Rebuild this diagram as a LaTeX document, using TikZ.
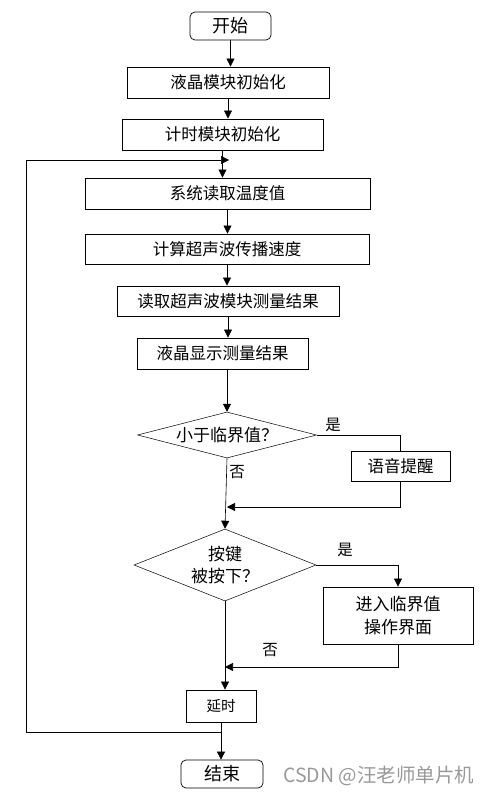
\documentclass[tikz,border=0pt]{standalone}
\usepackage{fontspec}
\setmainfont{Noto Sans CJK SC}
\usetikzlibrary{arrows.meta,shapes.geometric}
\begin{document}
\begin{tikzpicture}[x=1pt,y=-1pt,
  box/.style={draw, line width=0.9pt, inner sep=0pt, font=\fontsize{16.5}{19}\selectfont},
  term/.style={draw, line width=0.7pt, rounded corners=5pt, inner sep=0pt, font=\fontsize{18}{21}\selectfont},
  dec/.style={draw, diamond, line width=0.5pt, inner sep=0pt},
  lbl/.style={font=\fontsize{15.5}{18}\selectfont, inner sep=0pt},
  arr/.style={-{Triangle[length=8pt,width=8pt]}, line width=0.6pt},
  ln/.style={line width=0.6pt}]
\useasboundingbox (0,0) rectangle (489,795);

\node[term, minimum width=81pt, minimum height=28pt] (start) at (230.5,26) {开始};
\node[box, minimum width=202pt, minimum height=31pt] (b1) at (228,82.5) {液晶模块初始化};
\node[box, minimum width=201pt, minimum height=31pt] (b2) at (222.5,134.5) {计时模块初始化};
\node[box, minimum width=285pt, minimum height=31pt] (b3) at (227.5,193.5) {系统读取温度值};
\node[box, minimum width=284pt, minimum height=30pt] (b4) at (227,249) {计算超声波传播速度};
\node[box, minimum width=222pt, minimum height=30pt] (b5) at (228,301) {读取超声波模块测量结果};
\node[box, minimum width=171pt, minimum height=31pt] (b6) at (222.5,353.5) {液晶显示测量结果};

\node[dec, minimum width=179pt, minimum height=46pt] (d1) at (227,435) {};
\node[lbl, font=\fontsize{17}{20}\selectfont] at (d1) {小于临界值？};
\node[box, minimum width=99pt, minimum height=30pt] (v) at (400.5,466) {语音提醒};

\node[dec, minimum width=182pt, minimum height=72pt] (d2) at (225,565) {};
\node[lbl, font=\fontsize{17}{22}\selectfont, align=center] at (d2) {按键\\被按下？};
\node[box, minimum width=150pt, minimum height=57pt, align=center, font=\fontsize{17}{23}\selectfont] (e) at (398,615.5) {进入临界值\\操作界面};

\node[box, minimum width=70pt, minimum height=32pt, font=\fontsize{14.5}{17}\selectfont] (delay) at (221,706) {延时};
\node[term, minimum width=82pt, minimum height=28pt] (end) at (222,774) {结束};

\node[lbl] at (333,425) {是};
\node[lbl] at (237,472) {否};
\node[lbl] at (345,550) {是};
\node[lbl] at (270,650) {否};

\node[lbl, text=black!40, font=\fontsize{19.5}{22}\selectfont, anchor=west] (wm) at (283,776) {CSDN @汪老师单片机};

\draw[arr] (start.south) -- (start.south |- b1.north);
\draw[arr] (b1.south) -- (b1.south |- b2.north);
\draw[arr] (b2.south) -- (b2.south |- b3.north);
\draw[arr] (b3.south) -- (b3.south |- b4.north);
\draw[arr] (b4.south) -- (b4.south |- b5.north);
\draw[arr] (b5.south) -- (b5.south |- b6.north);
\draw[arr] (b6.south -| d1.north) -- (d1.north);

\draw[ln] (d1.east) -| (v.north);
\coordinate (m1) at (227,507);
\draw[arr] (v.south) |- (m1);
\draw[arr] (d1.south) -- (d2.north);

\draw[arr] (d2.east) -| (e.north);
\coordinate (m2) at (225,667);
\draw[arr] (e.south) |- (m2);
\draw[arr] (d2.south) -- (d2.south |- delay.north);

\draw[arr] (delay.south) -- (delay.south |- end.north);
\coordinate (j) at (221,732);
\coordinate (lb) at (26,732);
\coordinate (lt) at (26,160);
\coordinate (tgt) at (229,160);
\draw[arr] (j) -- (lb) -- (lt) -- (tgt);
\end{tikzpicture}
\end{document}
